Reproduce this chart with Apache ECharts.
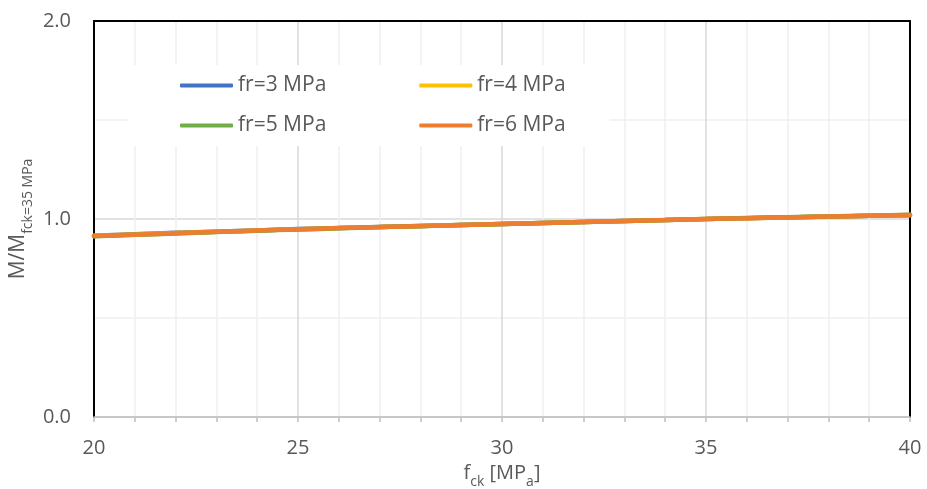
<!DOCTYPE html>
<html>
<head>
<meta charset="utf-8">
<script src="https://cdn.jsdelivr.net/npm/echarts@6/dist/echarts.min.js"></script>
<style>
  html, body { margin: 0; padding: 0; background: #fff; }
  #chart { width: 927px; height: 489px; }
</style>
</head>
<body>
<div id="chart"></div>
<script>
// Concrete strength f_ck [MPa]
const fck = [20, 21, 22, 23, 24, 25, 26, 27, 28, 29, 30, 31, 32, 33, 34, 35, 36, 37, 38, 39, 40];

// Normalised moment M / M(fck = 35 MPa) for each flexural strength fr
const fr3 = [0.916, 0.923, 0.930, 0.936, 0.942, 0.949, 0.954, 0.960, 0.965, 0.970, 0.975, 0.980, 0.985, 0.990, 0.995, 1.000, 1.004, 1.008, 1.012, 1.016, 1.019];
const fr4 = [0.915, 0.922, 0.929, 0.935, 0.942, 0.948, 0.954, 0.959, 0.965, 0.970, 0.975, 0.980, 0.985, 0.990, 0.995, 1.000, 1.004, 1.008, 1.012, 1.016, 1.020];
const fr5 = [0.913, 0.920, 0.927, 0.934, 0.941, 0.947, 0.953, 0.959, 0.964, 0.970, 0.975, 0.980, 0.985, 0.990, 0.995, 1.000, 1.005, 1.009, 1.013, 1.017, 1.021];
const fr6 = [0.914, 0.921, 0.928, 0.935, 0.942, 0.948, 0.954, 0.959, 0.965, 0.970, 0.975, 0.980, 0.985, 0.990, 0.995, 1.000, 1.004, 1.008, 1.012, 1.016, 1.020];

const seriesNames = ['fr=3 MPa', 'fr=4 MPa', 'fr=5 MPa', 'fr=6 MPa'];
const seriesValues = [fr3, fr4, fr5, fr6];
const seriesColors = ['#4472C4', '#FFC000', '#70AD47', '#ED7D31'];

// Y ticks 0.0 / 1.0 / 2.0, X ticks 20..40 step 5
const yTickStep = 1;
const xTickStep = 5;

const FONT = 'Open Sans';
const TXT = '#595959';

const chart = echarts.init(document.getElementById('chart'), null, { renderer: 'canvas' });

const legendCommon = {
  orient: 'horizontal',
  left: 129,
  icon: 'roundRect',
  itemWidth: 53,
  itemHeight: 4,
  itemGap: 93,
  backgroundColor: '#ffffff',
  borderRadius: 0,
  textStyle: { fontFamily: FONT, fontSize: 21, color: TXT, padding: [0, 0, 0, 0] }
};

const option = {
  animation: false,
  backgroundColor: '#ffffff',
  grid: { left: 94, right: 17, top: 21, bottom: 72, containLabel: false, outerBoundsMode: 'none' },
  legend: [
    Object.assign({}, legendCommon, {
      top: 65, padding: [10, 44, 10, 51],
      data: seriesNames.slice(0, 2)
    }),
    Object.assign({}, legendCommon, {
      top: 105, padding: [10, 44, 10, 51],
      data: seriesNames.slice(2, 4)
    })
  ],
  xAxis: [
    {
      type: 'value',
      min: 20, max: 40, interval: xTickStep,
      name: '{m|f}{s|ck}{m| [MP}{s|a}{m|]}',
      nameLocation: 'middle',
      nameGap: 44,
      nameTextStyle: {
        rich: {
          m: { fontFamily: FONT, fontSize: 20, color: TXT, lineHeight: 24, verticalAlign: 'bottom', padding: [0, 0, 4, 0] },
          s: { fontFamily: FONT, fontSize: 14, color: TXT, lineHeight: 24, verticalAlign: 'bottom', padding: [0, 0, -2, 0] }
        }
      },
      axisLine: { show: true, onZero: false, lineStyle: { color: '#BFBFBF', width: 1.5 } },
      axisTick: { show: true, inside: false, length: 5, lineStyle: { color: '#BFBFBF', width: 1.5 } },
      minorTick: { show: true, splitNumber: 5, length: 5, lineStyle: { color: '#BFBFBF', width: 1.5 } },
      axisLabel: { fontFamily: FONT, fontSize: 20, color: TXT, margin: 21 },
      splitLine: { show: true, lineStyle: { color: '#D9D9D9', width: 1.5 } },
      minorSplitLine: { show: true, lineStyle: { color: '#F0F0F0', width: 1.5 } }
    },
    {
      type: 'value', position: 'top',
      min: 20, max: 40, interval: xTickStep,
      axisLine: { show: true, onZero: false, lineStyle: { color: '#000000', width: 2 } },
      axisTick: { show: false }, axisLabel: { show: false }, splitLine: { show: false }
    }
  ],
  yAxis: [
    {
      type: 'value',
      min: 0, max: 2, interval: yTickStep,
      name: '{m|M/M}{s|fck=35 MPa}',
      nameLocation: 'middle',
      nameGap: 61,
      nameMoveOverlap: false,
      nameRotate: 90,
      nameTextStyle: {
        rich: {
          m: { fontFamily: FONT, fontSize: 21, color: TXT, lineHeight: 26, verticalAlign: 'bottom', padding: [0, 0, 4, 0] },
          s: { fontFamily: FONT, fontSize: 14, color: TXT, lineHeight: 26, verticalAlign: 'bottom', padding: [0, 0, -2, 0] }
        }
      },
      axisLine: { show: true, onZero: false, lineStyle: { color: '#000000', width: 2 } },
      axisTick: { show: false },
      axisLabel: { fontFamily: FONT, fontSize: 20, color: TXT, margin: 23, formatter: v => v.toFixed(1) },
      splitLine: { show: true, lineStyle: { color: '#D9D9D9', width: 1.5 } },
      minorTick: { show: false, splitNumber: 2 },
      minorSplitLine: { show: true, lineStyle: { color: '#F0F0F0', width: 1.5 } }
    },
    {
      type: 'value', position: 'right',
      min: 0, max: 2, interval: yTickStep,
      axisLine: { show: true, onZero: false, lineStyle: { color: '#000000', width: 2 } },
      axisTick: { show: false }, axisLabel: { show: false }, splitLine: { show: false }
    }
  ],
  series: seriesNames.map((name, i) => ({
    name: name,
    type: 'line',
    xAxisIndex: 0,
    yAxisIndex: 0,
    smooth: true,
    symbol: 'none',
    data: fck.map((x, k) => [x, seriesValues[i][k]]),
    lineStyle: { color: seriesColors[i], width: 4.5, cap: 'round' },
    itemStyle: { color: seriesColors[i] },
    z: 2 + i
  }))
};

chart.setOption(option);
</script>
</body>
</html>
